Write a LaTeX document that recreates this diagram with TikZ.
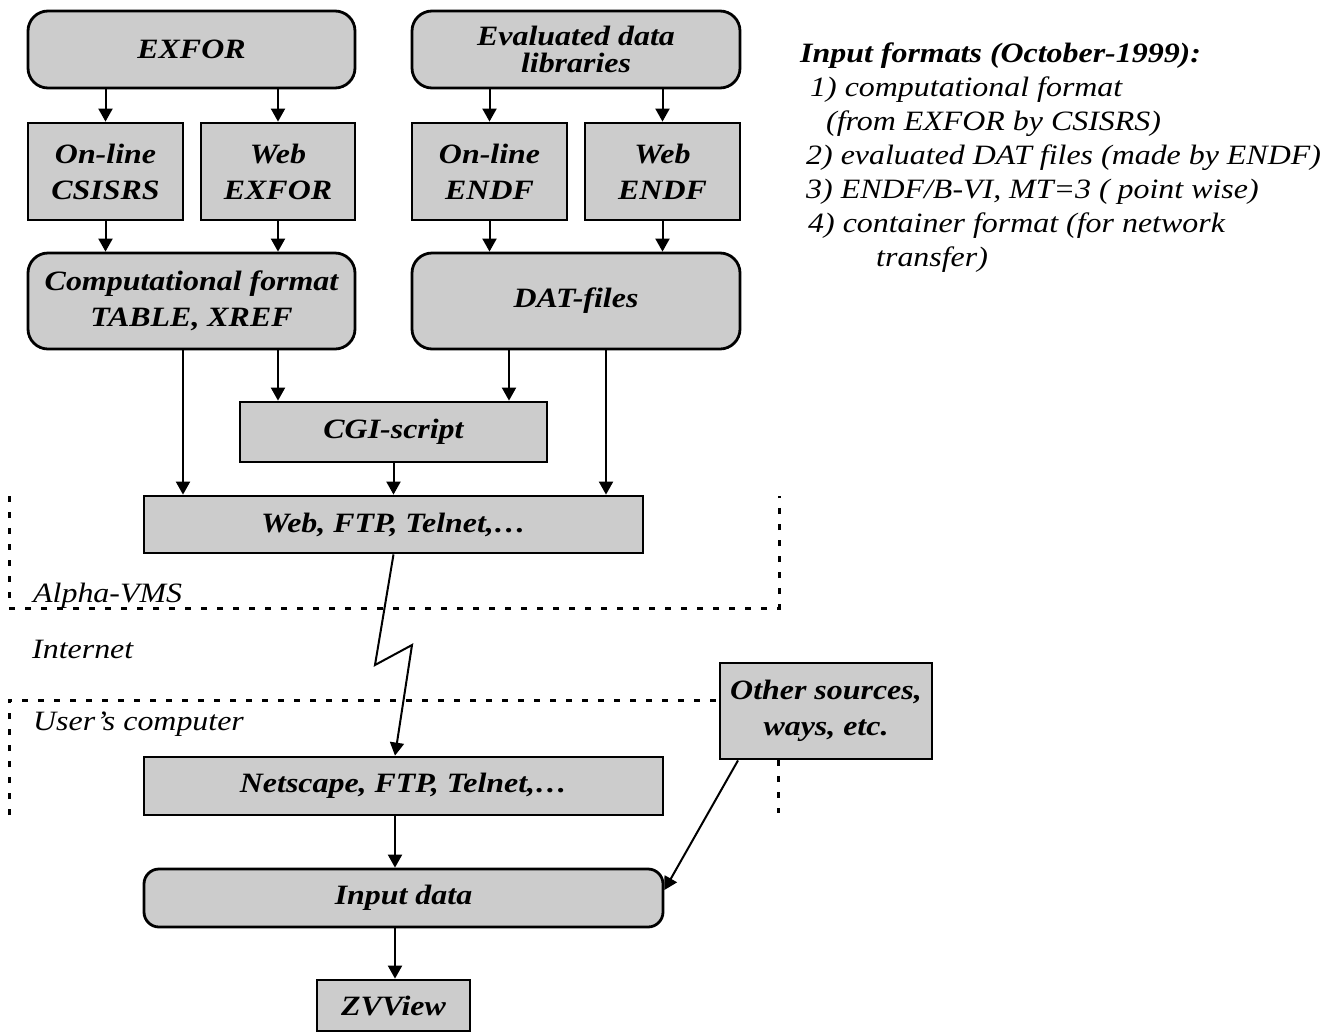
\documentclass[tikz,border=0pt]{standalone}
\usepackage{fontspec}
\setmainfont{Liberation Serif}[FakeStretch=1.14]
\usetikzlibrary{arrows.meta}
\definecolor{boxgray}{RGB}{204,204,204}
\begin{document}
\begin{tikzpicture}[x=1pt,y=-1pt,
  box/.style={draw, line width=2.8pt, fill=boxgray, font=\fontsize{28}{36}\selectfont\bfseries\itshape, align=center, inner sep=0pt},
  rbox/.style={box, rounded corners=20pt},
  arr/.style={line width=2pt, -{Triangle[width=14pt,length=13pt]}},
  frame/.style={line width=3pt, dash pattern=on 6pt off 10pt},
  lbl/.style={font=\fontsize{28}{34}\selectfont\itshape, anchor=base west, inner sep=0pt},
  ttl/.style={font=\fontsize{28}{34}\selectfont\bfseries\itshape, anchor=base west, inner sep=0pt}]
\useasboundingbox (0,0) rectangle (1340,1034);
% boxes
\node[rbox, minimum width=327pt, minimum height=77pt] (exfor) at (191.5,49.5) {EXFOR};
\node[box, minimum width=155pt, minimum height=97pt] (csisrs) at (105.5,171.5) {On-line\\CSISRS};
\node[box, minimum width=154pt, minimum height=97pt] (webexfor) at (278,171.5) {Web\\EXFOR};
\node[rbox, minimum width=327pt, minimum height=96pt] (comp) at (191.5,301) {Computational format\\TABLE, XREF};
\node[rbox, minimum width=328pt, minimum height=77pt, font=\fontsize{28}{27}\selectfont\bfseries\itshape] (eval) at (576,49.5) {Evaluated data\\libraries};
\node[box, minimum width=155pt, minimum height=97pt] (onendf) at (489.5,171.5) {On-line\\ENDF};
\node[box, minimum width=155pt, minimum height=97pt] (webendf) at (662.5,171.5) {Web\\ENDF};
\node[rbox, minimum width=328pt, minimum height=96pt] (dat) at (576,301) {DAT-files};
\node[box, minimum width=307pt, minimum height=60pt] (cgi) at (393.5,432) {CGI-script};
\node[box, minimum width=499pt, minimum height=57pt] (web) at (393.5,524.5) {Web, FTP, Telnet,\dots};
\node[box, minimum width=519pt, minimum height=58pt] (netscape) at (403.5,786) {Netscape, FTP, Telnet,\dots};
\node[box, rounded corners=15pt, minimum width=519pt, minimum height=58pt] (input) at (403.5,898) {Input data};
\node[box, minimum width=153pt, minimum height=51pt] (zv) at (393.5,1005.5) {ZVView};
\node[box, minimum width=212pt, minimum height=96pt] (other) at (826,711) {Other sources,\\ways, etc.};
% arrows
\draw[arr] (exfor.south -| csisrs.north) -- (csisrs.north);
\draw[arr] (exfor.south -| webexfor.north) -- (webexfor.north);
\draw[arr] (csisrs.south) -- (comp.north -| csisrs.south);
\draw[arr] (webexfor.south) -- (comp.north -| webexfor.south);
\draw[arr] (eval.south -| onendf.north) -- (onendf.north);
\draw[arr] (eval.south -| webendf.north) -- (webendf.north);
\draw[arr] (onendf.south) -- (dat.north -| onendf.south);
\draw[arr] (webendf.south) -- (dat.north -| webendf.south);
\draw[arr] ([xshift=-8.5pt]comp.south) -- ([xshift=-8.5pt]comp.south |- web.north);
\draw[arr] ([xshift=86.5pt]comp.south) -- ([xshift=86.5pt]comp.south |- cgi.north);
\draw[arr] ([xshift=-67pt]dat.south) -- ([xshift=-67pt]dat.south |- cgi.north);
\draw[arr] ([xshift=30pt]dat.south) -- ([xshift=30pt]dat.south |- web.north);
\draw[arr] (cgi.south) -- (web.north);
\draw[arr] (web.south) -- (375,665) -- (412,645) -- ([xshift=-8.5pt]netscape.north);
\draw[arr] ([xshift=-8.5pt]netscape.south) -- ([xshift=-8.5pt]input.north);
\draw[arr] ([xshift=-8.5pt]input.south) -- ([xshift=-8.5pt]input.south |- zv.north);
\draw[arr] ([xshift=-88pt]other.south) -- ([yshift=8pt]input.east);
% frames
\draw[frame] (9,496) -- (9,608) -- (779,608) -- (779,496);
\draw[frame] (9,815) -- (9,700) -- (other.west |- 0,700);
\draw[frame] ([xshift=-48pt]other.south) -- ++(0,53);
% labels
\node[lbl] (alpha) at (33,602) {Alpha-VMS};
\node[lbl] (internet) at (32,658) {Internet};
\node[lbl] (user) at (33,730) {User’s computer};
% input formats list
\node[ttl] (t0) at (800,62) {Input formats (October-1999):};
\node[lbl] (t1) at (810,96) {1) computational format};
\node[lbl] (t2) at (826,130) {(from EXFOR by CSISRS)};
\node[lbl] (t3) at (806,164) {2) evaluated DAT files (made by ENDF)};
\node[lbl] (t4) at (806,198) {3) ENDF/B-VI, MT=3 ( point wise)};
\node[lbl] (t5) at (808,232) {4) container format (for network};
\node[lbl] (t6) at (876,266) {transfer)};
\end{tikzpicture}
\end{document}
